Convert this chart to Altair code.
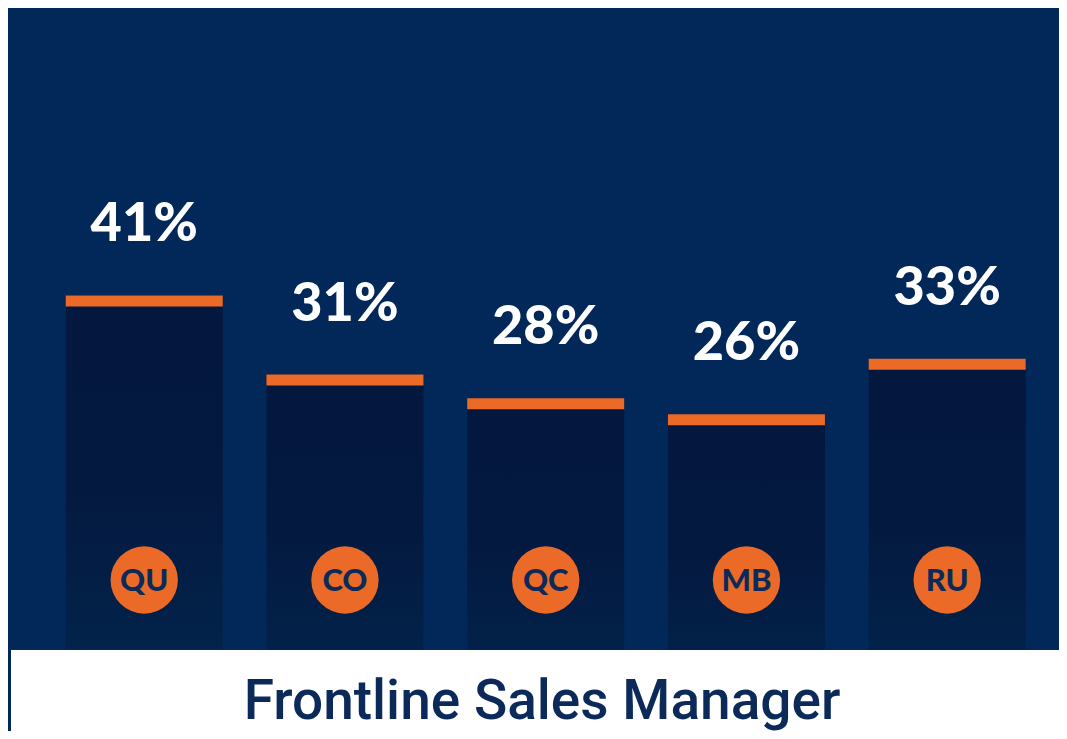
import altair as alt
import pandas as pd

regions = ["QU", "CO", "QC", "MB", "RU"]
values = [41, 31, 28, 26, 33]
labels = ["41%", "31%", "28%", "26%", "33%"]
title_text = ["Frontline Sales Manager"]

W, H = 1051, 723
# y scale chosen so that 0 sits at 612px and 1 unit = 7.916px
PX = 7.916
Y0 = 612
YMIN = -(H - Y0) / PX
YMAX = YMIN + H / PX

BG = "#012858"
ORANGE = "#EC6A28"
NAVY_TEXT = "#0B2A5A"

df = pd.DataFrame({"region": regions, "value": values, "label": labels})
df_title = pd.DataFrame({"t": title_text})

xenc = alt.X("region:N", sort=regions, axis=None,
             scale=alt.Scale(range=[57.7, 1017.7], paddingInner=0.2177, paddingOuter=0))
yenc = alt.Y("value:Q", axis=None, scale=alt.Scale(domain=[YMIN, YMAX], nice=False, zero=False))

base = alt.Chart(df)

grad = alt.Gradient(
    gradient="linear",
    stops=[
        alt.GradientStop(color="#03173F", offset=0),
        alt.GradientStop(color="#041940", offset=0.45),
        alt.GradientStop(color="#01284F", offset=1),
    ],
    x1=0, x2=0, y1=0, y2=1,
)

bars = base.mark_bar(color=grad).encode(x=xenc, y=yenc, y2=alt.datum(YMIN))
caps = base.mark_tick(color=ORANGE, thickness=11, size=157, yOffset=5.5, opacity=1).encode(x=xenc, y=yenc)
pct = base.mark_text(
    dy=-54, baseline="alphabetic", align="center", fontSize=54, font="Lato",
    fontWeight=900, color="white"
).encode(x=xenc, y=yenc, text="label:N")
circles = base.mark_circle(size=4536, opacity=1, color=ORANGE).encode(x=xenc, y=alt.value(572))
ctext = base.mark_text(
    baseline="middle", align="center", fontSize=31, font="Lato", fontWeight=900, color=NAVY_TEXT
).encode(x=xenc, y=alt.value(574), text="region:N")

box = alt.Chart(df_title).mark_rect(color="white").encode(
    x=alt.value(3), x2=alt.value(W), y=alt.value(642), y2=alt.value(H)
)
title = alt.Chart(df_title).mark_text(
    baseline="alphabetic", align="center", fontSize=55, font="Roboto", fontWeight=500, color=NAVY_TEXT
).encode(x=alt.value(534), y=alt.value(711), text="t:N")

chart = alt.layer(bars, caps, pct, circles, ctext, box, title).properties(
    width=W, height=H, background=BG, padding=0, autosize=alt.AutoSizeParams(type="none")
).configure_view(stroke=None)

chart.save("out.html", embed_options={"renderer": "svg", "actions": False})
